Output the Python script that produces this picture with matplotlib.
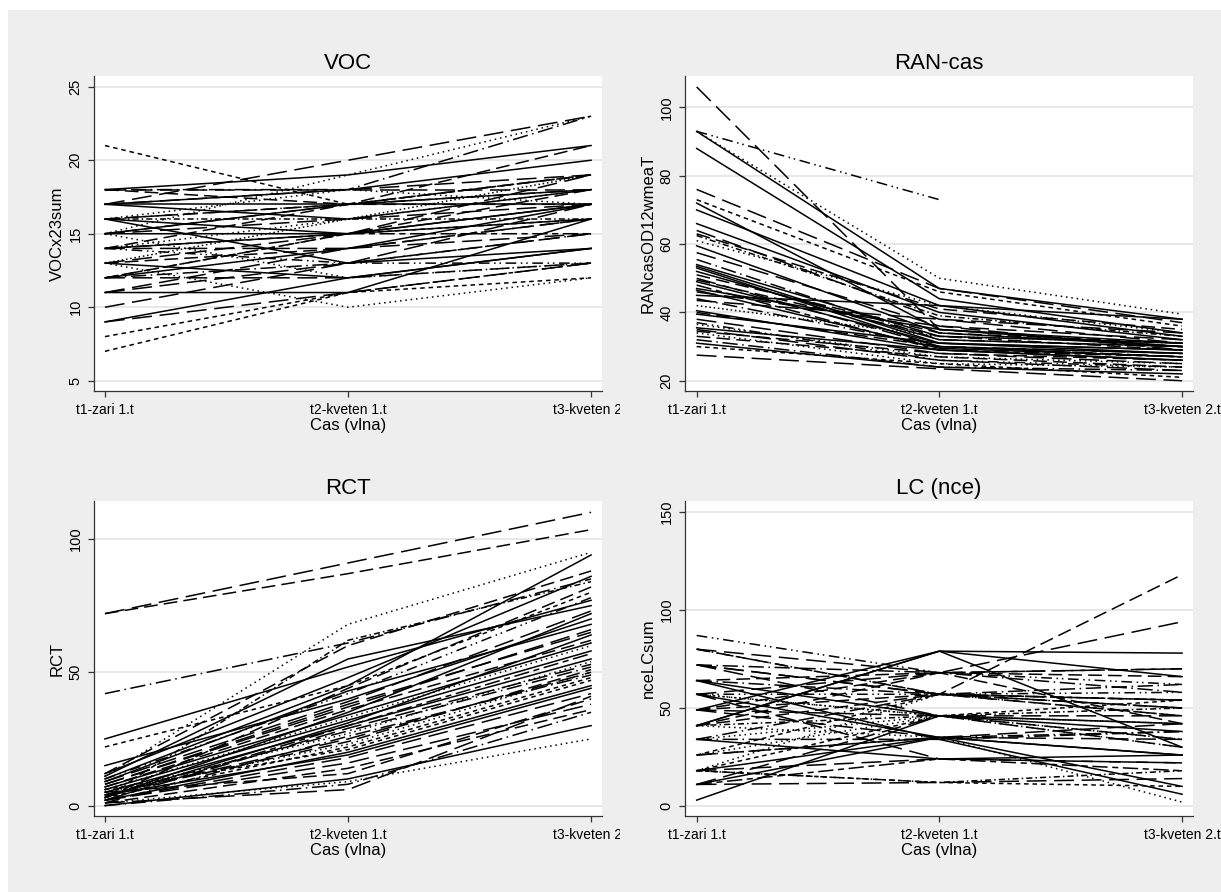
import matplotlib
matplotlib.use("Agg")
import matplotlib.pyplot as plt
from matplotlib.patches import Rectangle
from matplotlib.transforms import Bbox, TransformedBbox
import numpy as np

plt.rcParams["font.family"] = ["Liberation Sans", "DejaVu Sans"]

# --- data: one line per person, values at the three waves ---
WAVES = [1, 2, 3]
WAVE_LABELS = ["t1-zari 1.t", "t2-kveten 1.t", "t3-kveten 2.t"]

voc_t1 = [21, 18, 17, 18, 17, 18, 16, 15, 17, 16, 15, 14, 12, 13, 11, 14, 16, 15, 11, 9,
          9, 13, 8, 7, 10, 12, 17, 16, 15, 14, 13, 12, 12, 11, 16, 14, 13, 15, 17, 18,
          16, 14, 12, 15, 13, 14]
voc_t2 = [17, 19, 20, 18, 18, 18, 17, 19, 16, 15, 15, 15, 15, 15, 14, 14, 13, 12, 11, 12,
          11, 10, 11, 11, 13, 12, 17, 17, 16, 16, 14, 14, 13, 13, 16, 17, 16, 17, 18, 17,
          18, 15, 15, 17, 12, 13]
voc_t3 = [19, 21, 23, 23, 20, 18, 19, 23, 18, 17, 16, 17, 18, 19, 16, 15, 14, 13, 16, 14,
          13, 12, 12, 13, 15, 13, 17, 18, 17, 18, 16, 17, 15, 17, 16, 19, 19, 18, 19, 17,
          17, 15, 16, 21, 14, 13]

ran_t1 = [106, 93, 93, 93, 88, 76, 73, 72, 70, 66, 64, 63, 61, 59.5, 57.5, 54, 53.5, 53, 52, 51,
          50, 49.5, 49, 47, 46.5, 46, 45, 44, 43.5, 40.5, 40, 39.5, 38, 36.5, 35.5, 35, 34.5, 34,
          33, 31, 30, 27.5, 62.5, 55.5, 48, 42, 37, 32]
ran_t2 = [35, 73, 50, 47, 44, 47, 46, 35, 42, 40, 38, 41, 42, 34, 36, 33, 31, 30, 32, 34,
          30, 33, 31, 35, 29.5, 36, 42, 30, 38, 29, 30, 31, 28, 27, 29, 26, 28, 25,
          27, 24, 25, 23.5, 39, 32, 29, 33, 26, 24]
ran_t3 = [30, np.nan, 39.5, 38, 34, 37, 36, 30, 33, 32, 31, 35, 34, 30, 29, 31, 29, 28, 30, 31,
          27, 29, 28, 31, 27, 32, 38, 27, 34, 26, 28, 29, 25, 25, 26, 23, 26, 24,
          24, 22, 21, 20, 33, 30, 27, 31, 24, 23]

rct_t1 = [72, 72, 42, 11, 25, 22, 10, 12, 3, 1, 0, 2, 5, 1, 15, 11, 9, 8, 7, 6,
          5, 4, 4, 3, 3, 2, 2, 1, 12, 10, 8, 6, 5, 4, 3, 2, 1, 0, 6, 7,
          9, 3, 2, 4, 5]
rct_t2 = [91, 87, 61, 68, 52, 45, 45, 60, 62, 9, 8, 16, 12, 6, 40, 55, 43, 38, 36, 33,
          30, 28, 25, 35, 22, 20, 18, 14, 48, 42, 37, 32, 27, 24, 31, 29, 26, 10, 21, 34,
          39, 44, 30, 19, 23]
rct_t3 = [110, 103.5, 85, 95, 77, 80, 94, 88, 84, 25, 35, 38, 40, 41, 70, 75, 68, 65, 62, 60,
          55, 52, 50, 72, 48, 45, 42, 36, 86, 78, 66, 58, 54, 51, 64, 53, 49, 30, 47, 61,
          73, 82, 57, 44, 50]

lc_t1 = [3, 41, 41, 49, 64, 57, 87, 80, 80, 72, 72, 41, 57, 34, 18, 18, 11, 26, 11, 18,
         26, 34, 49, 57, 64, 72, 80, 49, 41, 57, 34, 18, 11, 26, 49, 64, 57, 41, 72, 18,
         34, 26, 49, 57, 64, 41, 11, 18]
lc_t2 = [46, 79, 79, 79, 34, 35, 68, 68, 57, 57, 68, 57, 68, 34, 24, 12, 12, 46, 35, 46,
         35, 57, 57, 46, 46, 57, 57, 68, 46, 24, 46, 35, 24, 57, 35, 57, 46, 68, 46, 57,
         24, 35, 46, 57, 68, 35, 46, 12]
lc_t3 = [42, 78, 66, 30, 6, 10, 62, 70, 54, 50, 58, 118, 94, 38, 22, 18, 14, 42, 26, 54,
         34, 46, 50, 42, 38, 54, 46, 70, 50, 22, 30, 26, 18, 54, 42, 62, 34, 66, 46, 50,
         26, 38, 30, 58, 42, 2, 34, 10]

# Stata-like line patterns: 0 solid, 1 dash, 2 shortdash, 3 longdash_dot, 4 dot,
# 5 dash_dot_dot, 6 longdash, 7 shortdash_dot, 8 longdash_shortdash, 9 fine dot
STYLES = ["-", (0, (9, 4)), (0, (3, 2.5)), (0, (10, 3, 1, 3)), (0, (1, 2.5)),
          (0, (7, 3, 1, 2.5, 1, 3)), (0, (13, 5)), (0, (4, 2, 1, 2)),
          (0, (10, 3, 4, 3)), (0, (1, 1.8))]

voc_pat = [2, 0, 6, 3, 0, 6, 1, 4, 0, 0, 0, 0, 1, 6, 6, 6, 0, 4, 0, 0,
           6, 4, 2, 2, 6, 6, 0, 3, 6, 4, 1, 0, 3, 6, 7, 1, 9, 0, 6, 1,
           4, 8, 2, 1, 0, 5]
ran_pat = [6, 5, 4, 0, 0, 6, 2, 0, 0, 0, 6, 1, 4, 0, 6, 0, 0, 0, 0, 1,
           6, 1, 0, 0, 0, 6, 0, 3, 6, 0, 1, 0, 6, 4, 0, 6, 1, 4, 1, 0,
           2, 6, 7, 3, 8, 9, 5, 3]
rct_pat = [6, 1, 3, 4, 0, 2, 0, 1, 7, 4, 3, 6, 1, 6, 0, 0,
           0, 6, 1, 4, 0, 3, 6, 0, 2, 0, 6, 1, 0, 5, 6, 0, 4, 1, 0, 6,
           3, 0, 2, 0, 6, 1, 8, 0, 4]
lc_pat = [0, 0, 0, 0, 0, 0, 5, 6, 1, 6, 3, 1, 6, 3, 6, 7,
          6, 4, 0, 2, 6, 3, 1, 4, 0, 6, 5, 1, 7, 6, 4, 0, 8, 2, 6, 3,
          9, 1, 6, 4, 0, 3, 6, 5, 1, 4, 6, 2]

W, H = 1221, 892
fig = plt.figure(figsize=(W / 100, H / 100), dpi=100, facecolor="white")
fig.patches.append(Rectangle((8 / W, 0), 1 - 8 / W, 1 - 10 / H, transform=fig.transFigure,
                             facecolor="#EEEEEE", edgecolor="none", zorder=-10))


def panel(rect, t1, t2, t3, pat, title, ylabel, yticks, ylim, xlim, clip_right=None):
    ax = fig.add_axes([rect[0] / W, 1 - rect[1] / H, rect[2] / W, rect[3] / H])
    ax.set_facecolor("white")
    for i, vals in enumerate(zip(t1, t2, t3)):
        ax.plot(WAVES, vals, color="black", lw=1.1, linestyle=STYLES[pat[i]])
    ax.set_xlim(*xlim)
    ax.set_ylim(*ylim)
    ax.set_xticks(WAVES)
    ax.set_xticklabels(WAVE_LABELS)
    ax.set_yticks(yticks)
    ax.set_yticklabels([str(v) for v in yticks], rotation=90, va="center")
    ax.tick_params(axis="x", labelsize=10, pad=4)
    ax.tick_params(axis="y", labelsize=10.5, pad=4)
    ax.tick_params(axis="both", length=4.3, width=0.9, color="#333333")
    ax.yaxis.grid(True, color="#E4E4E4", lw=1.2)
    ax.set_axisbelow(True)
    for s in ["top", "right"]:
        ax.spines[s].set_visible(False)
    for s in ["left", "bottom"]:
        ax.spines[s].set_color("#333333")
        ax.spines[s].set_linewidth(0.9)
    ax.set_title(title, fontsize=16, pad=5)
    ax.set_xlabel("Cas (vlna)", fontsize=12, labelpad=1)
    ax.set_ylabel(ylabel, fontsize=12)
    ax.yaxis.set_label_coords(-0.058, 0.5)
    if clip_right is not None:
        bb = TransformedBbox(Bbox([[0, 0], [clip_right / W, 1]]), fig.transFigure)
        for lab in ax.get_xticklabels():
            lab.set_clip_box(bb)
            lab.set_clip_on(True)
    return ax


panel((94, 391, 508, 315), voc_t1, voc_t2, voc_t3, voc_pat, "VOC", "VOCx23sum",
      [5, 10, 15, 20, 25], (4.3, 25.73), (0.955, 3.045), clip_right=620)
panel((685, 391, 508, 315), ran_t1, ran_t2, ran_t3, ran_pat, "RAN-cas", "RANcasOD12wmeaT",
      [20, 40, 60, 80, 100], (17.0, 109.2), (0.952, 3.045))
panel((94, 816, 508, 315), rct_t1, rct_t2, rct_t3, rct_pat, "RCT", "RCT",
      [0, 50, 100], (-3.9, 114.25), (0.955, 3.045), clip_right=620)
panel((685, 816, 508, 315), lc_t1, lc_t2, lc_t3, lc_pat, "LC (nce)", "nceLCsum",
      [0, 50, 100, 150], (-5.1, 155.6), (0.952, 3.045))

fig.savefig("out.png", dpi=100, facecolor=fig.get_facecolor())
